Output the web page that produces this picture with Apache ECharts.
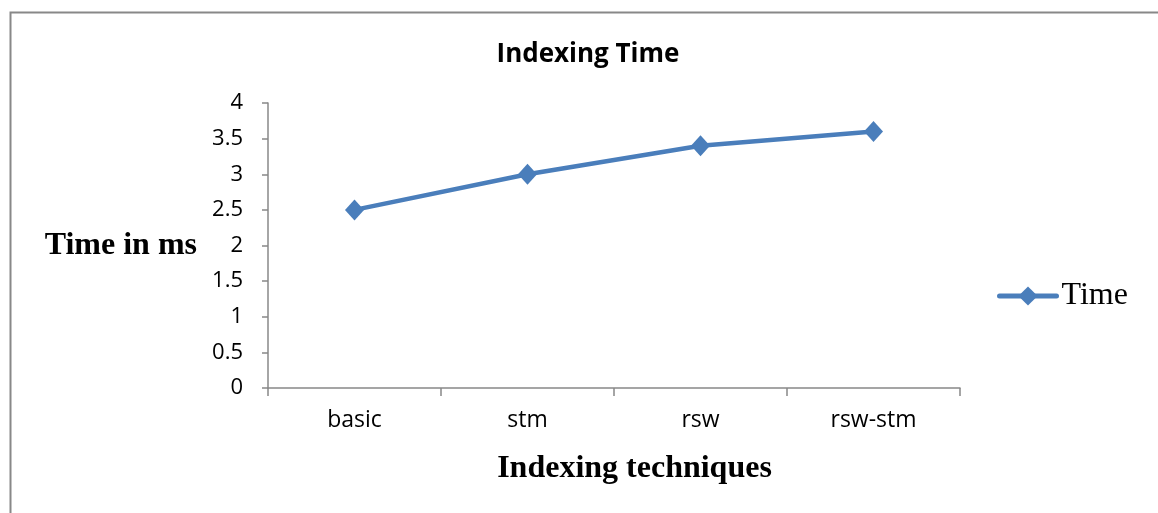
<!DOCTYPE html>
<html>
<head>
<meta charset="utf-8">
<script src="https://cdn.jsdelivr.net/npm/echarts@6/dist/echarts.min.js"></script>
<style>
html,body{margin:0;padding:0;background:#fff;}
#c{width:1158px;height:513px;}
</style>
</head>
<body>
<div id="c"></div>
<script>
const categories = ['basic', 'stm', 'rsw', 'rsw-stm'];
const timeValues = [2.5, 3.0, 3.4, 3.6];
const seriesName = 'Time';

const chart = echarts.init(document.getElementById('c'));
chart.setOption({
  backgroundColor: '#fff',
  animation: false,
  graphic: [{
    type: 'rect', left: 8, top: 10,
    shape: { width: 1400, height: 800 },
    style: { fill: 'none', stroke: '#888', lineWidth: 2 }
  }],
  title: {
    text: 'Indexing Time', left: 583, top: 37, textAlign: 'center',
    textStyle: { fontFamily: 'Open Sans', fontWeight: 'bold', fontSize: 26, color: '#000' }
  },
  legend: {
    data: [seriesName], left: 992, top: 275,
    itemWidth: 57, itemHeight: 24, itemGap: 6,
    lineStyle: { width: 5, cap: 'round' },
    textStyle: { fontFamily: 'Liberation Serif', fontSize: 32, color: '#000' }
  },
  grid: { left: 268, right: 198, top: 103, bottom: 125 },
  xAxis: {
    type: 'category', data: categories, boundaryGap: true,
    name: 'Indexing techniques', nameLocation: 'middle', nameGap: 65,
    nameTextStyle: { fontFamily: 'Liberation Serif', fontWeight: 'bold', fontSize: 32, color: '#000', padding: [0, 0, 0, 41] },
    axisLine: { lineStyle: { color: '#888', width: 1.5 } },
    axisTick: { show: true, length: 8, lineStyle: { color: '#888', width: 1.5 } },
    axisLabel: { fontFamily: 'Open Sans', fontSize: 23, color: '#000', margin: 21 }
  },
  yAxis: {
    type: 'value', min: 0, max: 4, interval: 0.5,
    name: 'Time in ms', nameLocation: 'middle', nameRotate: 0, nameGap: 71,
    nameTextStyle: { fontFamily: 'Liberation Serif', fontWeight: 'bold', fontSize: 32, color: '#000' },
    axisLine: { show: true, lineStyle: { color: '#888', width: 1.5 } },
    axisTick: { show: true, length: 6, lineStyle: { color: '#888', width: 1.5 } },
    splitLine: { show: false },
    axisLabel: { fontFamily: 'Open Sans', fontSize: 22, color: '#000', margin: 25 }
  },
  series: [{
    name: seriesName, type: 'line', data: timeValues,
    symbol: 'diamond', symbolSize: [19, 21],
    lineStyle: { color: '#4a7ebb', width: 4.5 },
    itemStyle: { color: '#4a7ebb' }
  }]
});
</script>
</body>
</html>
